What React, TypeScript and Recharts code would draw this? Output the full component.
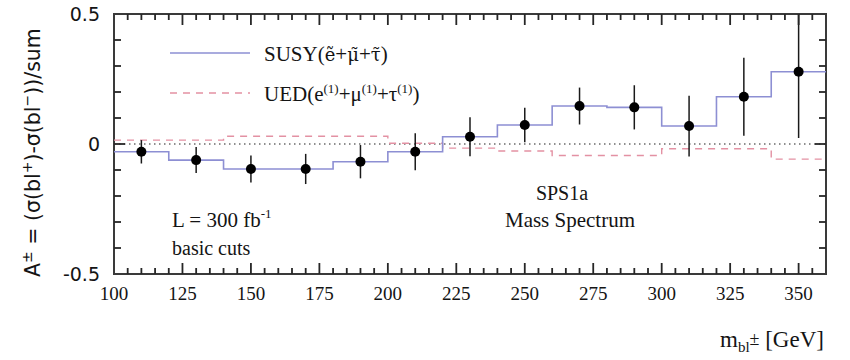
import React from 'react';
import { ComposedChart, Line, Scatter, ErrorBar, XAxis, YAxis, ReferenceLine, ReferenceArea } from 'recharts';

// Histogram bin edges and centres of m_bl (GeV)
const binEdges = [100, 120, 140, 160, 180, 200, 220, 240, 260, 280, 300, 320, 340, 360];
const binCentres = [110, 130, 150, 170, 190, 210, 230, 250, 270, 290, 310, 330, 350];

// Charge asymmetry per bin
const susyAsym = [-0.03, -0.062, -0.096, -0.096, -0.068, -0.03, 0.028, 0.073, 0.146, 0.141, 0.069, 0.182, 0.278];
const susyErr = [0.045, 0.05, 0.052, 0.058, 0.064, 0.071, 0.075, 0.066, 0.071, 0.085, 0.117, 0.15, 0.255];
const uedAsym = [0.015, 0.015, 0.03, 0.03, 0.03, 0.003, -0.016, -0.027, -0.044, -0.044, -0.018, -0.018, -0.058];

// Axis ticks: labelled major ticks and unlabelled minor ticks
const xTicks = [100, 125, 150, 175, 200, 225, 250, 275, 300, 325, 350];
const xMinorTicks = [
  105, 110, 115, 120, 130, 135, 140, 145, 155, 160, 165, 170, 180, 185, 190, 195, 205, 210, 215, 220, 230, 235,
  240, 245, 255, 260, 265, 270, 280, 285, 290, 295, 305, 310, 315, 320, 330, 335, 340, 345, 355,
];
const yTicks = [-0.5, 0, 0.5];
const yMinorTicks = [-0.4, -0.3, -0.2, -0.1, 0.1, 0.2, 0.3, 0.4];

const X_MIN = 100;
const X_MAX = 360;
const Y_MIN = -0.5;
const Y_MAX = 0.5;

const W = 850;
const H = 360;
const PLOT = { left: 114, right: 826, top: 14, bottom: 274 };
const xPx = (v: number) => PLOT.left + ((v - X_MIN) / (X_MAX - X_MIN)) * (PLOT.right - PLOT.left);
const yPx = (v: number) => PLOT.bottom - ((v - Y_MIN) / (Y_MAX - Y_MIN)) * (PLOT.bottom - PLOT.top);

const SUSY_COLOR = '#8d8fd3';
const UED_COLOR = '#e391a3';
const FRAME_COLOR = '#3a3a3a';
const TICK_COLOR = '#262626';
const INK = '#141414';

const serif = "'Liberation Serif', 'DejaVu Serif', serif";
const sans = "'DejaVu Sans', 'Liberation Sans', sans-serif";

const toStep = (values: number[]) => binEdges.map((m, i) => ({ m, v: values[Math.min(i, values.length - 1)] }));

const susyStep = toStep(susyAsym);
const uedStep = toStep(uedAsym);
// error bars stop at the frame
const points = binCentres.map((m, i) => ({
  m,
  a: susyAsym[i],
  err: [susyErr[i], Math.min(susyErr[i], Y_MAX - susyAsym[i])],
}));

// inward frame tick marks
const frameTicks = (() => {
  const segs: { x1: number; y1: number; x2: number; y2: number }[] = [];
  const xs = [
    ...xTicks.filter((v) => v > X_MIN && v < X_MAX).map((v) => [v, 11]),
    ...xMinorTicks.map((v) => [v, 6]),
  ];
  xs.forEach(([v, len]) => {
    const x = xPx(v);
    segs.push({ x1: x, y1: PLOT.bottom, x2: x, y2: PLOT.bottom - len });
    segs.push({ x1: x, y1: PLOT.top, x2: x, y2: PLOT.top + len });
  });
  const ys = [...yTicks.filter((v) => v > Y_MIN && v < Y_MAX).map((v) => [v, 11]), ...yMinorTicks.map((v) => [v, 7])];
  ys.forEach(([v, len]) => {
    const y = yPx(v);
    segs.push({ x1: PLOT.left, y1: y, x2: PLOT.left + len, y2: y });
    segs.push({ x1: PLOT.right, y1: y, x2: PLOT.right - len, y2: y });
  });
  return segs;
})();

const DataDot = (props: any) => {
  const { cx, cy } = props;
  if (cx == null || cy == null) return null;
  return <circle cx={cx} cy={cy} r={5} fill="#000" />;
};

export default function App() {
  return (
    <div style={{ position: 'absolute', left: 0, top: 0, width: W, height: H, background: '#fff' }}>
      <svg width={W} height={H} style={{ position: 'absolute', left: 0, top: 0 }}>
        {/* legend */}
        <line x1={170} y1={53} x2={250} y2={53} stroke={SUSY_COLOR} strokeWidth={1.6} />
        <text x={264} y={61} fontFamily={serif} fontSize={21} fill={INK}>
          SUSY(
          <tspan fontFamily="'DejaVu Serif', serif" fontSize={18}>ẽ</tspan>
          +
          <tspan fontFamily="'DejaVu Serif', serif" fontSize={18}>μ̃</tspan>
          +
          <tspan fontFamily="'DejaVu Serif', serif" fontSize={18}>τ̃</tspan>)
        </text>
        <line x1={170} y1={93} x2={250} y2={93} stroke={UED_COLOR} strokeWidth={1.4} strokeDasharray="7 6" />
        <text x={264} y={101} fontFamily={serif} fontSize={21} fill={INK}>
          UED(e
          <tspan dy={-8} fontSize={13}>(1)</tspan>
          <tspan dy={8}>+μ</tspan>
          <tspan dy={-8} fontSize={13}>(1)</tspan>
          <tspan dy={8}>+τ</tspan>
          <tspan dy={-8} fontSize={13}>(1)</tspan>
          <tspan dy={8}>)</tspan>
        </text>

        {/* annotations */}
        <text x={562} y={200} textAnchor="middle" fontFamily={serif} fontSize={20} fill={INK}>
          SPS1a
        </text>
        <text x={570} y={227} textAnchor="middle" fontFamily={serif} fontSize={21} fill={INK}>
          Mass Spectrum
        </text>
        <text x={172} y={227} fontFamily={serif} fontSize={21} fill={INK}>
          L = 300 fb
          <tspan dy={-9} fontSize={13}>-1</tspan>
        </text>
        <text x={172} y={255} fontFamily={serif} fontSize={20} fill={INK}>
          basic cuts
        </text>

        {/* axis titles */}
        <text x={720} y={347} fontFamily={serif} fontSize={23} fill={INK}>
          m
          <tspan dy={5} fontSize={15}>bl</tspan>
          <tspan dy={-7} fontSize={18}>±</tspan>
          <tspan dy={2}> [GeV]</tspan>
        </text>
        <text transform="translate(40,277) rotate(-90)" fontFamily={sans} fontSize={20.5} fill={INK}>
          A
          <tspan dy={-8} fontSize={14}>±</tspan>
          <tspan dy={8}> = (σ(bl</tspan>
          <tspan dy={-8} fontSize={14}>+</tspan>
          <tspan dy={8}>)-σ(bl</tspan>
          <tspan dy={-8} fontSize={14}>−</tspan>
          <tspan dy={8}>))/sum</tspan>
        </text>
      </svg>

      <div style={{ position: 'absolute', left: 0, top: 0 }}>
        <ComposedChart width={W} height={H} margin={{ top: PLOT.top, right: W - PLOT.right, bottom: 46, left: 54 }}>
          <XAxis
            type="number"
            dataKey="m"
            domain={[X_MIN, X_MAX]}
            ticks={xTicks}
            interval={0}
            allowDataOverflow
            axisLine={false}
            tickLine={false}
            tickSize={0}
            tickMargin={13}
            height={40}
            tick={{ fontFamily: serif, fontSize: 19, fill: INK }}
          />
          <YAxis
            type="number"
            domain={[Y_MIN, Y_MAX]}
            ticks={yTicks}
            interval={0}
            allowDataOverflow
            axisLine={false}
            tickLine={false}
            tickSize={0}
            tickMargin={14}
            width={60}
            tick={{ fontFamily: sans, fontSize: 19, fill: INK }}
          />
          <ReferenceLine y={0} stroke="#6b6b6b" strokeWidth={1.3} strokeDasharray="1.5 3.5" />
          <Line
            data={uedStep}
            dataKey="v"
            type="stepAfter"
            stroke={UED_COLOR}
            strokeWidth={1.4}
            strokeDasharray="7 6"
            dot={false}
            activeDot={false}
            isAnimationActive={false}
          />
          <Line
            data={susyStep}
            dataKey="v"
            type="stepAfter"
            stroke={SUSY_COLOR}
            strokeWidth={1.6}
            dot={false}
            activeDot={false}
            isAnimationActive={false}
          />
          <Scatter data={points} dataKey="a" shape={DataDot} isAnimationActive={false}>
            <ErrorBar dataKey="err" direction="y" width={0} stroke="#1a1a1a" strokeWidth={1.5} />
          </Scatter>
          <ReferenceArea
            x1={X_MIN}
            x2={X_MAX}
            y1={Y_MIN}
            y2={Y_MAX}
            fill="none"
            fillOpacity={0}
            stroke={FRAME_COLOR}
            strokeWidth={2}
          />
        </ComposedChart>
      </div>

      <svg width={W} height={H} style={{ position: 'absolute', left: 0, top: 0, pointerEvents: 'none' }}>
        {frameTicks.map((s, i) => (
          <line key={i} x1={s.x1} y1={s.y1} x2={s.x2} y2={s.y2} stroke={TICK_COLOR} strokeWidth={1.8} />
        ))}
      </svg>
    </div>
  );
}
